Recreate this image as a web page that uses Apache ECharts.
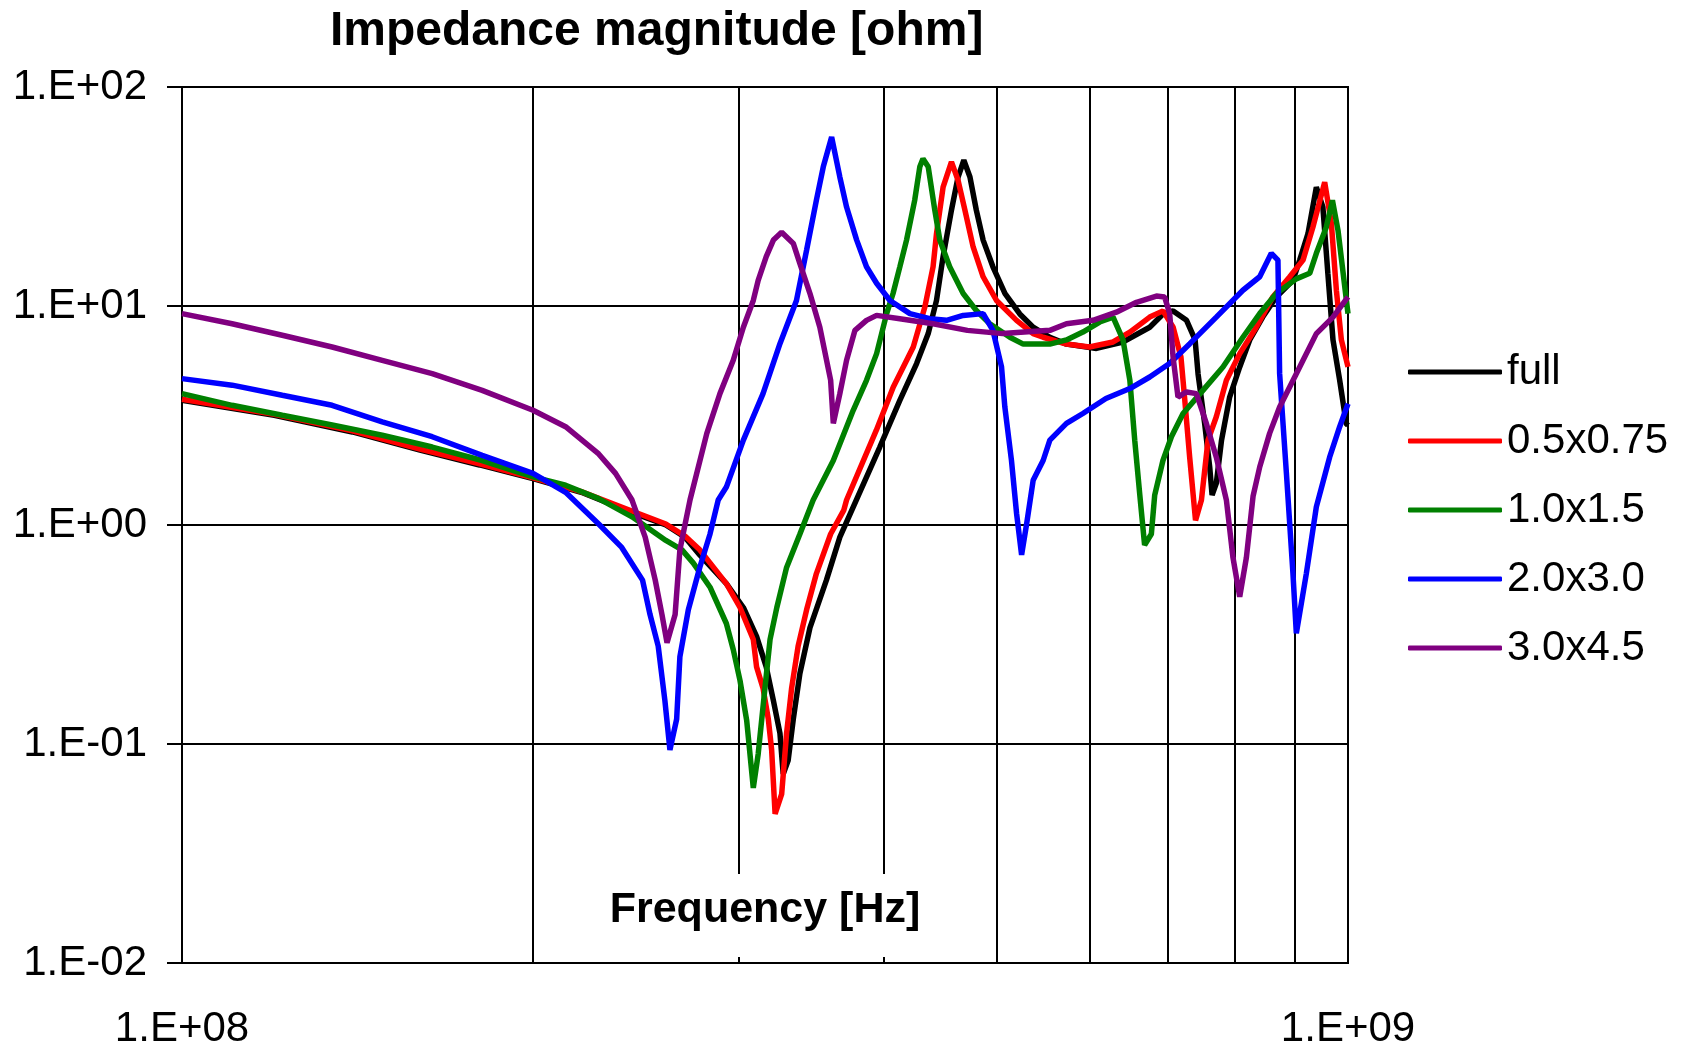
<!DOCTYPE html>
<html>
<head>
<meta charset="utf-8">
<title>Impedance magnitude</title>
<script src="https://cdn.jsdelivr.net/npm/echarts@6/dist/echarts.min.js"></script>
<style>
  html, body { margin: 0; padding: 0; background: #fff; }
  #chart { width: 1687px; height: 1044px; }
</style>
</head>
<body>
<div id="chart"></div>
<script>
// frequency in MHz, impedance in ohm
var seriesNames = ['full', '0.5x0.75', '1.0x1.5', '2.0x3.0', '3.0x4.5'];
var seriesColors = ['#000000', '#ff0000', '#008000', '#0000ff', '#800080'];
var gridFreqs = [200, 300, 400, 500, 600, 700, 800, 900];
var yTicks = [0.01, 0.1, 1, 10, 100];

var full = [[100,3.71],[120,3.17],[140,2.66],[160,2.2],[180,1.88],[200,1.63],[220,1.41],[240,1.17],[260,1.0],[270,0.88],
  [278,0.73],[293,0.54],[303,0.42],[311,0.31],[317,0.225],[321.5,0.158],[325.7,0.112],[327.8,0.073],[331,0.084],[334.4,0.13],
  [338.8,0.21],[345.6,0.34],[357,0.56],[366.6,0.88],[377.7,1.26],[396.7,2.27],[412.7,3.71],[426.6,5.46],[436.5,7.48],[443.7,10.6],
  [449.5,16.8],[457,27.4],[463,38.8],[468.3,46.3],[474,38.8],[480,27.4],[486.5,20.0],[496,15.1],[508,11.4],[523,9.2],
  [537,8.0],[555,7.2],[573.5,6.7],[608.5,6.4],[641,6.85],[676,8.0],[694,9.2],[708,9.5],[727,8.6],[739.4,7.0],
  [743.7,4.9],[753.5,2.9],[761,1.84],[764.6,1.37],[771,1.55],[779,2.44],[791.6,3.84],[807.5,5.27],[823.6,7.0],[845,8.9],
  [868,11.0],[897,13.1],[909,16.2],[924,21.4],[939.4,34.9],[951.6,28.3],[961,14.1],[970.8,7.0],[983.7,4.58],[996.6,2.9],[1000,2.85]];

var s05x075 = [[100,3.75],[120,3.2],[140,2.69],[160,2.22],[180,1.9],[200,1.64],[220,1.42],[240,1.19],[260,1.01],[270,0.89],
  [278,0.77],[293,0.54],[301,0.42],[309,0.3],[311,0.225],[315,0.18],[318.3,0.13],[320.4,0.094],[322.6,0.048],[326.8,0.059],
  [330,0.112],[333.3,0.18],[337.6,0.28],[343.3,0.41],[350,0.6],[360,0.91],[369.5,1.17],[371.5,1.3],[394,2.71],[407.4,4.27],
  [423.8,6.5],[433.6,9.9],[440.7,15.1],[443.7,21.4],[449.5,34.9],[457,45.5],[463,37.5],[469.3,27.4],[477,18.6],[486.5,13.6],
  [499.5,10.6],[519.7,8.6],[537,7.48],[547.7,7.2],[573.5,6.7],[600,6.5],[628.8,6.85],[650,7.6],[676,8.9],[694,9.5],
  [708,8.0],[719,5.85],[724.5,3.71],[731.5,2.04],[740,1.05],[748.7,1.3],[758.5,2.44],[771,3.12],[786.5,4.58],[807.5,6.06],
  [834.3,8.0],[862,11.0],[891.3,13.6],[915,16.2],[933,22.9],[955,36.8],[967.7,23.8],[977.3,11.8],[987,7.0],[1000,5.27]];

var s10x15 = [[100,3.98],[110.4,3.52],[121.9,3.17],[134.5,2.86],[148.5,2.57],[163.9,2.27],[180.9,1.97],[200,1.66],[213.3,1.52],[227.7,1.32],
  [243.2,1.09],[260,0.85],[268.4,0.77],[274.5,0.67],[283.7,0.52],[293,0.355],[297,0.27],[301,0.195],[305,0.128],[309,0.063],
  [312,0.09],[316.2,0.18],[319.4,0.3],[323.7,0.42],[330,0.64],[338.8,0.91],[347.8,1.3],[361.9,1.97],[376.4,3.34],[386.4,4.58],
  [394.2,6.06],[402.1,9.23],[407.2,11.4],[412.7,15.1],[418.2,20],[425,30.4],[429.3,43.2],[432,47],[436.5,43.2],[442.2,27.4],
  [446.6,20],[455.4,15.1],[467.7,11.4],[480,9.54],[492.9,8.3],[512.9,7.2],[526.6,6.7],[555,6.7],[573.5,7.0],[592.4,7.6],
  [612.4,8.45],[628.8,8.9],[641.3,7.0],[650,4.58],[656.3,2.44],[662.9,1.37],[669.2,0.81],[678.2,0.91],[682.7,1.37],[693.9,1.97],
  [705.6,2.53],[722,3.23],[750.9,4.12],[781.2,5.27],[812.6,7.2],[840,9.23],[868,11.4],[903,13.3],[927.2,14.1],[939.4,17.4],
  [958,22.9],[969.7,30.4],[980.4,22.2],[990.5,14.1],[1000,9.23]];

var s20x30 = [[100,4.66],[110.4,4.35],[121.9,3.91],[134.5,3.52],[148.5,2.96],[163.9,2.53],[180.9,2.08],[200,1.72],[213.3,1.41],[227.7,1.01],
  [238.3,0.79],[248.3,0.56],[252,0.39],[256.1,0.28],[259.5,0.158],[262.1,0.094],[265.6,0.13],[267.3,0.25],[271.8,0.41],[278,0.64],
  [283.7,0.91],[288.3,1.3],[293,1.49],[303,2.44],[315,3.98],[325.7,6.73],[336.5,10.6],[343.3,18],[350,30.4],[354.8,43.2],
  [360.7,59.1],[366.6,38.8],[371.5,28.3],[379,20],[386.4,15.1],[394.2,12.7],[404.7,10.6],[421,9.23],[437.8,8.75],[452.6,8.6],
  [467.7,9.06],[486.5,9.23],[496,7.74],[504.5,5.27],[507.8,3.46],[514.5,1.97],[519.7,1.13],[524.9,0.73],[530.1,1.01],[537,1.6],
  [547.7,1.97],[555,2.44],[573.5,2.91],[592.4,3.23],[620,3.78],[650,4.2],[676,4.74],[703,5.46],[731.7,6.73],[771,8.9],
  [812.6,11.8],[840,13.6],[859.5,17.4],[870.8,16.2],[873.7,4.91],[885.5,1.72],[897,0.6],[903,0.32],[921,0.6],[939.4,1.21],
  [964.4,2.04],[983.7,2.81],[1000,3.58]];

var s30x45 = [[100,9.23],[110.4,8.3],[121.9,7.35],[134.5,6.5],[148.5,5.65],[163.9,4.91],[180.9,4.12],[200,3.34],[213.3,2.81],[227.7,2.11],
  [235.4,1.72],[243.2,1.3],[249.6,0.88],[254.6,0.56],[258,0.39],[260.6,0.29],[264.8,0.39],[267.3,0.77],[272.7,1.3],[281.9,2.62],
  [289.3,3.98],[297,5.65],[303,8.0],[309,10.6],[312,13.1],[317,16.8],[321.5,20],[326.8,21.7],[334.4,19.3],[338.8,15.6],
  [345.6,11.4],[352.4,8.0],[360,4.58],[361.9,2.91],[366.6,3.98],[371.5,5.65],[377.7,7.74],[386.4,8.6],[394.2,9.06],[412.7,8.75],
  [440.7,8.3],[471.6,7.74],[505.6,7.48],[555,7.74],[573.5,8.3],[604.4,8.6],[632.9,9.37],[658.6,10.4],[685,11.1],[696.2,11.0],
  [703.2,9.23],[707.9,5.85],[714.8,3.84],[727,4.05],[741.3,3.98],[756,2.91],[771,2.04],[786.5,1.3],[796.8,0.71],[807.5,0.47],
  [818.2,0.71],[829,1.35],[840,1.84],[856.6,2.62],[873.7,3.46],[903,4.91],[939.4,7.48],[970.8,8.9],[1000,11.0]];

var seriesData = [full, s05x075, s10x15, s20x30, s30x45];

var FONT = '"Liberation Sans", Arial, sans-serif';

// 1.E+02 style labels
function sci(v) {
  var e = Math.round(Math.log10(v));
  var s = String(Math.abs(e));
  if (s.length < 2) s = '0' + s;
  return '1.E' + (e < 0 ? '-' : '+') + s;
}

var myChart = echarts.init(document.getElementById('chart'), null, { renderer: 'canvas' });

var series = seriesNames.map(function (name, i) {
  var s = {
    name: name,
    type: 'line',
    data: seriesData[i],
    symbol: 'none',
    showSymbol: false,
    color: seriesColors[i],
    lineStyle: { color: seriesColors[i], width: 5.5 },
    animation: false,
    z: 2
  };
  if (i === 0) {
    // vertical grid lines at 2..9 x 1e8
    s.markLine = {
      silent: true,
      z: 1,
      symbol: ['none', 'none'],
      label: { show: false },
      lineStyle: { color: '#000', width: 2, type: 'solid' },
      emphasis: { disabled: true },
      animation: false,
      data: gridFreqs.map(function (f) { return { xAxis: f }; })
    };
  }
  return s;
});

var option = {
  backgroundColor: '#fff',
  animation: false,
  title: {
    text: 'Impedance magnitude [ohm]',
    left: 330,
    top: 8,
    padding: 0,
    textStyle: { fontFamily: FONT, fontSize: 48, fontWeight: 'bold', color: '#000', lineHeight: 48 }
  },
  legend: {
    orient: 'vertical',
    left: 1408,
    top: 351,
    padding: 0,
    itemWidth: 94,
    itemHeight: 5,
    itemGap: 27,
    icon: 'roundRect',
    data: seriesNames,
    textStyle: { fontFamily: FONT, fontSize: 42, lineHeight: 42, color: '#000' }
  },
  grid: {
    left: 182,
    top: 87,
    width: 1166,
    height: 876,
    show: true,
    borderColor: '#000',
    borderWidth: 2,
    containLabel: false,
    outerBoundsMode: 'none'
  },
  xAxis: {
    type: 'log',
    logBase: 10,
    min: 100,
    max: 1000,
    axisLine: { show: true, lineStyle: { color: '#000', width: 2 } },
    axisTick: { show: false },
    splitLine: { show: false },
    axisLabel: {
      margin: 45,
      fontFamily: FONT,
      fontSize: 42,
      lineHeight: 42,
      color: '#000',
      showMinLabel: true,
      showMaxLabel: true,
      formatter: function (v) { return sci(v * 1e6); }
    }
  },
  yAxis: {
    type: 'log',
    logBase: 10,
    min: yTicks[0],
    max: yTicks[yTicks.length - 1],
    splitNumber: yTicks.length - 1,
    axisLine: { show: true, lineStyle: { color: '#000', width: 2 } },
    axisTick: { show: true, inside: false, length: 15, lineStyle: { color: '#000', width: 2 } },
    splitLine: { show: true, lineStyle: { color: '#000', width: 2 } },
    axisLabel: {
      margin: 35,
      fontFamily: FONT,
      fontSize: 42,
      color: '#000',
      showMinLabel: true,
      showMaxLabel: true,
      formatter: function (v) { return sci(v); }
    }
  },
  graphic: [
    {
      type: 'rect',
      z: 50,
      silent: true,
      shape: { x: 600, y: 874, width: 330, height: 83 },
      style: { fill: '#fff' }
    },
    {
      type: 'text',
      z: 51,
      silent: true,
      style: {
        text: 'Frequency [Hz]',
        x: 765,
        y: 910,
        textAlign: 'center',
        textVerticalAlign: 'middle',
        fill: '#000',
        font: 'bold 43px ' + FONT
      }
    }
  ],
  series: series
};

myChart.setOption(option);
</script>
</body>
</html>
